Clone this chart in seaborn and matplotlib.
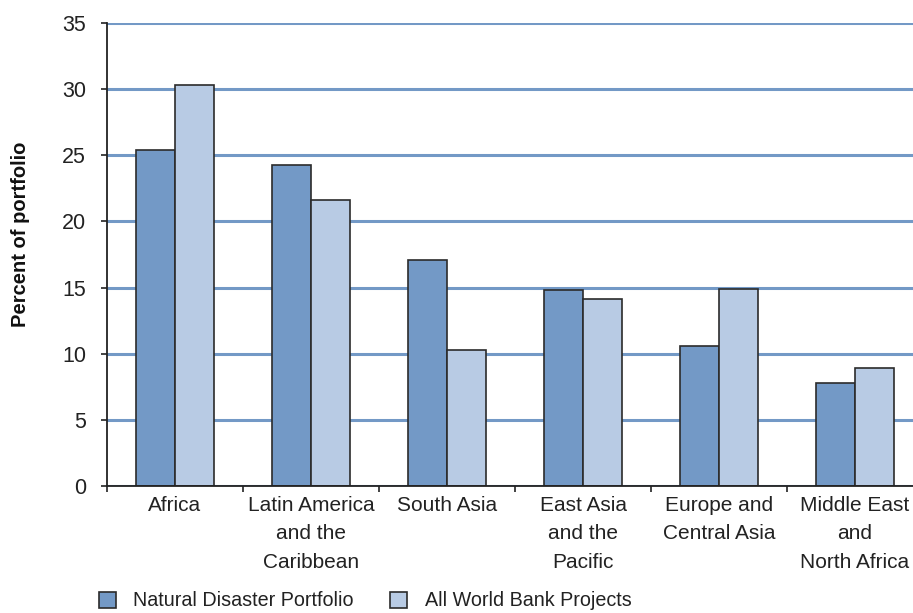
import matplotlib
matplotlib.use("Agg")
import matplotlib.pyplot as plt
from matplotlib.patches import Patch
from matplotlib.ticker import FixedLocator
import seaborn as sns
import pandas as pd

regions = ["Africa", "Latin America\nand the\nCaribbean", "South Asia",
           "East Asia\nand the\nPacific", "Europe and\nCentral Asia",
           "Middle East\nand\nNorth Africa"]
natural_disaster = [25.4, 24.3, 17.1, 14.8, 10.6, 7.8]
all_wb_projects = [30.3, 21.6, 10.3, 14.1, 14.9, 8.9]
series_names = ["Natural Disaster Portfolio", "All World Bank Projects"]
y_ticks = [0, 5, 10, 15, 20, 25, 30, 35]

colors = ["#7399C6", "#B8CBE4"]
text_color = "#222222"

df = pd.DataFrame({
    "region": regions * 2,
    "value": natural_disaster + all_wb_projects,
    "series": [series_names[0]] * len(regions) + [series_names[1]] * len(regions),
})

sns.set_theme(style="white")
plt.rcParams["font.family"] = ["Liberation Sans", "DejaVu Sans"]

W, H = 913, 613
fig = plt.figure(figsize=(W / 100, H / 100), dpi=100)
# the plotting area runs a little past the right edge of the figure
ax = fig.add_axes([107 / W, (H - 486) / H, (923 - 107) / W, (486 - 23) / H])

sns.barplot(data=df, x="region", y="value", hue="series", palette=colors,
            order=regions, hue_order=series_names, width=0.57,
            edgecolor="#2b2b2b", linewidth=1.2, saturation=1, ax=ax,
            legend=False, zorder=3)

ax.set_ylim(0, 35)
ax.set_xlim(-0.5, len(regions) - 0.5)
ax.set_yticks(y_ticks)
ax.set_yticklabels([str(t) for t in y_ticks], fontsize=15.5, color=text_color)
ax.yaxis.grid(True, color="#7399C6", linewidth=2.2, zorder=0)
ax.xaxis.grid(False)
ax.set_axisbelow(True)

ax.set_xticks(range(len(regions)))
ax.set_xticklabels(regions, fontsize=15, color=text_color, linespacing=1.65,
                   va="top")
ax.tick_params(axis="x", which="major", length=0, pad=7)
ax.xaxis.set_minor_locator(FixedLocator([i - 0.5 for i in range(len(regions) + 1)]))
ax.tick_params(axis="x", which="minor", length=4, width=1.2, color=text_color,
               direction="out", bottom=True)
ax.tick_params(axis="y", length=4, width=1.2, color=text_color, direction="out",
               left=True, pad=11)

for side in ("top", "right"):
    ax.spines[side].set_visible(False)
for side in ("left", "bottom"):
    ax.spines[side].set_color(text_color)
    ax.spines[side].set_linewidth(1.3)
    ax.spines[side].set_zorder(4)

ax.set_xlabel("")
ax.set_ylabel("Percent of portfolio", fontsize=14.5, fontweight="bold",
              color="#111111")
ax.yaxis.set_label_coords(-77 / (923 - 107), (486 - 234) / (486 - 23))

handles = [Patch(facecolor=c, edgecolor="#2b2b2b", linewidth=1.2) for c in colors]
fig.legend(handles, series_names, loc="center left", ncol=2, frameon=False,
           fontsize=14.2, handlelength=0.85, handleheight=0.85, handletextpad=0.9,
           columnspacing=1.85, bbox_to_anchor=(81 / W, 1 - 601 / H),
           labelcolor=text_color)

fig.savefig("out.png", dpi=100)
